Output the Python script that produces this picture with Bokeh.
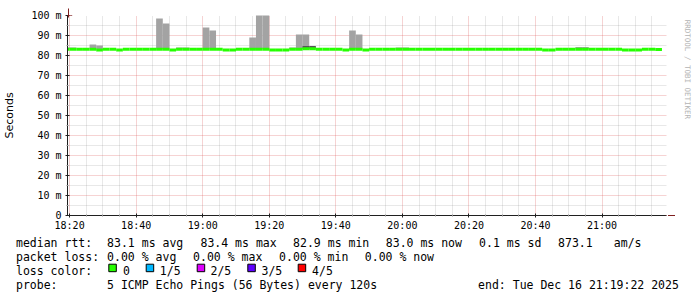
import math
from bokeh.plotting import figure
from bokeh.models import (FixedTicker, Arrow, NormalHead, Range1d, ColumnDataSource)
from bokeh.core.properties import value
from bokeh.layouts import column, row
from bokeh.embed import file_html
from bokeh.resources import INLINE

# ---------------- data ----------------
graph_start = "18:19:22"
graph_end = "21:19:22"
first_step_end = "18:20"
step_minutes = 2

x_tick_labels = ["18:20", "18:40", "19:00", "19:20", "19:40",
                 "20:00", "20:20", "20:40", "21:00"]
y_tick_values = [0, 10, 20, 30, 40, 50, 60, 70, 80, 90, 100]
y_tick_labels = ["0", "10 m", "20 m", "30 m", "40 m", "50 m",
                 "60 m", "70 m", "80 m", "90 m", "100 m"]

# median rtt (ms), one value per 2-minute step ending 18:20, 18:22, ... 21:18
median_ms = [
    83.1, 83.1, 83.1, 83.1, 83.1, 82.8, 83.1, 83.1, 82.8, 83.1,
    83.1, 83.1, 83.1, 83.1, 83.1, 83.1, 82.8, 83.1, 83.1, 83.1,
    83.1, 83.1, 83.1, 83.1, 82.8, 82.8, 83.1, 83.1, 83.1, 83.1,
    83.1, 82.8, 82.8, 82.8, 83.1, 83.1, 83.4, 83.4, 83.1, 83.1,
    83.1, 83.1, 82.8, 83.1, 83.1, 82.8, 83.1, 83.1, 83.1, 83.1,
    83.1, 83.1, 83.1, 83.1, 83.1, 83.1, 83.1, 83.1, 83.1, 83.1,
    83.1, 83.1, 83.1, 83.1, 83.1, 83.1, 83.1, 83.1, 83.1, 83.1,
    83.1, 83.1, 82.8, 82.8, 83.1, 83.1, 83.1, 83.1, 83.1, 83.1,
    83.1, 83.1, 83.1, 83.1, 82.8, 82.8, 82.8, 83.1, 83.1, 83.0,
]
# smoke (max ping) for the steps where it rises above the median
smoke_steps = [0, 1, 4, 5, 14, 15, 17, 18, 21, 22, 28, 29, 30,
               34, 35, 36, 43, 44, 50, 51, 77, 78]
smoke_max_ms = [84.0, 84.0, 85.5, 85.0, 98.5, 96.0, 84.0, 84.0, 94.0, 92.5,
                89.0, 100.5, 100.5, 84.0, 90.5, 90.5, 92.5, 90.5, 84.0, 84.0,
                84.3, 84.3]
dark_steps = [36, 37]
dark_max_ms = [84.7, 84.7]

rtt_title = "median rtt:"
rtt_items = ["83.1 ms avg", "83.4 ms max", "82.9 ms min", "83.0 ms now",
             "0.1 ms sd", "873.1", "am/s"]
loss_title = "packet loss:"
loss_items = ["0.00 % avg", "0.00 % max", "0.00 % min", "0.00 % now"]
color_title = "loss color:"
loss_color_labels = ["0", "1/5", "2/5", "3/5", "4/5"]
loss_colors = ["#26ff00", "#00b8ff", "#dd00ff", "#5e00ff", "#ff0000"]
probe_title = "probe:"
probe_text = "5 ICMP Echo Pings (56 Bytes) every 120s"
end_text = "end: Tue Dec 16 21:19:22 2025"
watermark = "RRDTOOL / TOBI OETIKER"

# ---------------- layout constants ----------------
W, H = 697, 297
MAIN_W, MAIN_H = 682, 234
FL, FR, FT, FB = 66, 666, 15, 215
MONO = "DejaVu Sans Mono"
TXT = "11.5px"

def to_min(s):
    parts = [int(v) for v in s.split(":")]
    return parts[0] * 60 + parts[1] + (parts[2] / 60 if len(parts) > 2 else 0)

x0, x1 = to_min(graph_start), to_min(graph_end)
step_end = [to_min(first_step_end) + step_minutes * i for i in range(len(median_ms))]
step_left = [e - step_minutes for e in step_end]

p = figure(width=MAIN_W, height=MAIN_H, output_backend="svg", toolbar_location=None,
           x_range=Range1d(x0, x1), y_range=Range1d(0, 100), title=None,
           min_border_left=FL, min_border_right=MAIN_W - FR,
           min_border_top=FT, min_border_bottom=MAIN_H - FB)
p.background_fill_color = "white"
p.border_fill_color = "white"
p.outline_line_color = None

# ticks / grid
xt = [to_min(s) for s in x_tick_labels]
x_minor = [m for m in range(int(xt[0]), int(x1) + 1, 5) if m not in xt]
p.xaxis.ticker = FixedTicker(ticks=xt, minor_ticks=x_minor)
p.xaxis.major_label_overrides = {t: s for t, s in zip(xt, x_tick_labels)}
y_minor = [v + 5 for v in y_tick_values[:-1]]
p.yaxis.ticker = FixedTicker(ticks=y_tick_values, minor_ticks=y_minor)
p.yaxis.major_label_overrides = {t: s for t, s in zip(y_tick_values, y_tick_labels)}

for g in (p.xgrid, p.ygrid):
    g.grid_line_color = "#de5050"
    g.grid_line_alpha = 0.5
    g.grid_line_dash = "1 1"
    g.minor_grid_line_color = "#8f8f8f"
    g.minor_grid_line_alpha = 0.4
    g.minor_grid_line_dash = "1 1"

for ax in (p.xaxis, p.yaxis):
    ax.axis_line_color = "#202020"
    ax.major_tick_line_color = "#202020"
    ax.minor_tick_line_color = "#909090"
    ax.major_tick_in = 2
    ax.major_tick_out = 2
    ax.minor_tick_in = 1
    ax.minor_tick_out = 1
    ax.major_label_text_font = MONO
    ax.major_label_text_font_size = "10px"
    ax.major_label_text_color = "#000000"
p.xaxis.major_label_standoff = 2
p.yaxis.major_label_standoff = 4
p.yaxis.axis_label = "Seconds"
p.yaxis.axis_label_text_font = "DejaVu Sans"
p.yaxis.axis_label_text_font_size = "11px"
p.yaxis.axis_label_text_font_style = "normal"
p.yaxis.axis_label_text_color = "#000000"
p.yaxis.axis_label_standoff = 12

# smoke
smoke_src = ColumnDataSource(dict(
    left=[step_left[i] for i in smoke_steps],
    right=[step_end[i] for i in smoke_steps],
    bottom=[median_ms[i] for i in smoke_steps],
    top=smoke_max_ms))
p.quad(left="left", right="right", bottom="bottom", top="top", source=smoke_src,
       fill_color="#a3a3a3", line_color=None)
dark_src = ColumnDataSource(dict(
    left=[step_left[i] for i in dark_steps],
    right=[step_end[i] for i in dark_steps],
    bottom=[median_ms[i] for i in dark_steps],
    top=dark_max_ms))
p.quad(left="left", right="right", bottom="bottom", top="top", source=dark_src,
       fill_color="#555555", line_color=None)

# median line (3 px thick)
med_src = ColumnDataSource(dict(
    left=step_left, right=step_end,
    bottom=[m - 0.75 for m in median_ms], top=[m + 0.75 for m in median_ms]))
p.quad(left="left", right="right", bottom="bottom", top="top", source=med_src,
       fill_color=loss_colors[0], line_color=None)

# axis arrows
arrow_col = "#7f1f1f"
p.add_layout(Arrow(x_start=1, y_start=FB - FT - 2, x_end=1, y_end=FB - 8,
                   start_units="screen", end_units="screen",
                   line_color=arrow_col, line_width=1,
                   end=NormalHead(size=7, fill_color=arrow_col, line_color=arrow_col)))
p.add_layout(Arrow(x_start=FR - FL - 2, y_start=0, x_end=FR - FL + 7.5, y_end=0,
                   start_units="screen", end_units="screen",
                   line_color=arrow_col, line_width=1,
                   end=NormalHead(size=7, fill_color=arrow_col, line_color=arrow_col)))

# ---------------- watermark strip (right of the plot) ----------------
WM_W = W - MAIN_W
pw = figure(width=WM_W, height=MAIN_H, output_backend="svg", toolbar_location=None,
            x_range=Range1d(0, WM_W), y_range=Range1d(0, MAIN_H), title=None,
            x_axis_type=None, y_axis_type=None, min_border=0)
pw.outline_line_color = None
pw.background_fill_color = "white"
pw.border_fill_color = "white"
pw.xgrid.visible = False
pw.ygrid.visible = False
pw.text(x=[687 - MAIN_W], y=[MAIN_H - 5], text=[watermark],
        text_font=value(MONO), text_font_size=value("7.5px"), text_color="#b4b4b4",
        angle=-math.pi / 2, text_align="left", text_baseline="middle")

# ---------------- legend strip (below the plot) ----------------
LG_H = H - MAIN_H
pl = figure(width=W, height=LG_H, output_backend="svg", toolbar_location=None,
            x_range=Range1d(0, W), y_range=Range1d(0, LG_H), title=None,
            x_axis_type=None, y_axis_type=None, min_border=0)
pl.outline_line_color = None
pl.background_fill_color = "white"
pl.border_fill_color = "white"
pl.xgrid.visible = False
pl.ygrid.visible = False

rows = [242, 256, 270, 284]
col0 = 15.5
txt_x, txt_y, txt_t = [], [], []

def put(cx, base, t):
    txt_x.append(cx)
    txt_y.append(H - base)
    txt_t.append(t)

put(col0, rows[0], rtt_title)
for x, t in zip([106.6, 200.0, 292.6, 385.3, 478.6, 557.6, 613.3], rtt_items):
    put(x, rows[0], t)
put(col0, rows[1], loss_title)
for x, t in zip([106.6, 192.6, 278.6, 364.3], loss_items):
    put(x, rows[1], t)
put(col0, rows[2], color_title)
box_x = [108.3, 145.7, 196.7, 247.3, 297.7]
for lx, lab in zip([122.6, 159.3, 210.0, 261.0, 311.6], loss_color_labels):
    put(lx, rows[2], lab)
put(col0, rows[3], probe_title)
put(106.6, rows[3], probe_text)
put(477.6, rows[3], end_text)

pl.quad(left=[b for b in box_x], right=[b + 7.5 for b in box_x],
        top=[H - 263.7] * len(box_x), bottom=[H - 271.2] * len(box_x),
        fill_color=loss_colors, line_color="black", line_width=1)
pl.text(x=txt_x, y=txt_y, text=txt_t, text_font=value(MONO),
        text_font_size=value(TXT), text_color="#000000",
        text_align="left", text_baseline="alphabetic")

layout = column(row(p, pw), pl)
open("out.html", "w").write(file_html(layout, INLINE))
